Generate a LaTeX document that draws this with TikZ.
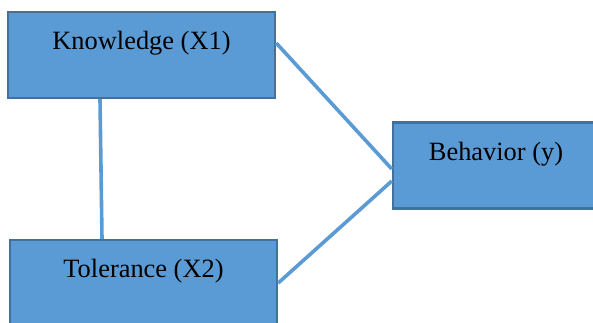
\documentclass[tikz,border=0pt]{standalone}
\usepackage{fontspec}
\setmainfont{Liberation Serif}
\definecolor{boxblue}{HTML}{5B9BD5}
\definecolor{edgeblue}{HTML}{41719C}
\tikzset{varbox/.style={draw=edgeblue,line width=1.2pt,fill=boxblue,inner ysep=0pt,
    text height=18.8pt,text depth=24.2pt,font=\fontsize{13.2}{15}\selectfont},
  link/.style={boxblue,line width=1.8pt}}

\begin{document}
\begin{tikzpicture}[x=0.5pt,y=-0.5pt]
                  \useasboundingbox (0,0) rectangle (593,322);
                  \node[varbox,minimum width=133.5pt] (know) at (141.5,55) {Knowledge (X1)};
                  \node[varbox,minimum width=133.5pt] (tol) at (143.5,283) {Tolerance (X2)};
                  \node[varbox,minimum width=103pt] (beh) at (496,165.5) {Behavior (y)};
                  \draw[link] ([yshift=6pt]know.east) -- ([yshift=-1.75pt]beh.west);
                  \draw[link] (tol.east) -- ([yshift=-7.75pt]beh.west);
                  \draw[link] ([xshift=-20.75pt]know.south) -- ([xshift=-20.75pt]tol.north);
              \end{tikzpicture}
\end{document}
